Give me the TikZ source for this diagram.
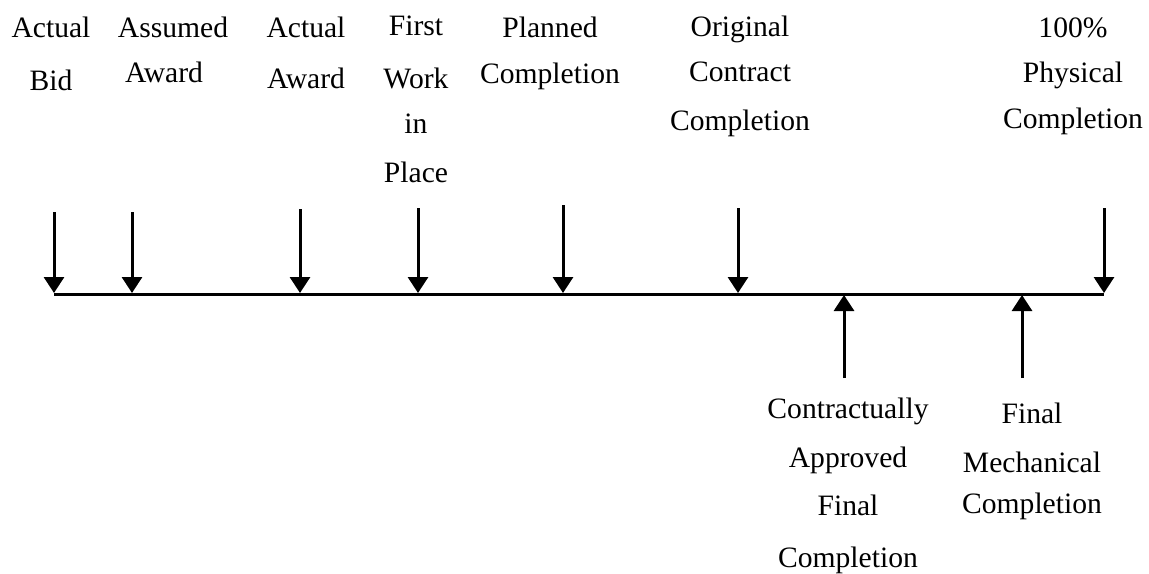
\documentclass[tikz,border=0pt]{standalone}
\usepackage{fontspec}
\setmainfont{Liberation Serif}
\usetikzlibrary{arrows.meta}
\begin{document}
\begin{tikzpicture}[x=0.5pt,y=-0.5pt,
  lbl/.style={font=\fontsize{14.8}{23}\selectfont, align=center, inner sep=0pt, anchor=base},
  evarrow/.style={-{Triangle[width=10pt,length=8pt]}, line width=1.5pt},
  timeline/.style={line width=1.5pt}]
\useasboundingbox (0,0) rectangle (1149,573);
% timeline
\coordinate (tL) at (54,294);
\coordinate (tR) at (1104,294);
\draw[timeline] (tL) -- (tR);
% down arrows
\foreach \n/\x/\y in {bid/54/212, ass/132/212, act/300/209, fwp/418/208, pln/563/205, orig/738/208, phys/1104/208}{
  \coordinate (\n-top) at (\x,\y);
  \coordinate (\n-pt) at (\x,293);
  \draw[evarrow] (\n-top) -- (\n-pt);
}
% up arrows
\foreach \n/\x in {cafc/844, fmc/1022}{
  \coordinate (\n-bot) at (\x,378);
  \coordinate (\n-pt) at (\x,295);
  \draw[evarrow] (\n-bot) -- (\n-pt);
}
% labels (anchor = baseline of last line)
\node[lbl] (Lbid) at (51,90) {Actual\\[3.5pt]Bid};
\node[lbl] (Lass) at (173,82) {Assumed\\[-0.5pt]Award\hspace*{9pt}};
\node[lbl] (Lact) at (306,88) {Actual\\[2.5pt]Award};
\node[lbl] (Lfwp) at (416,182) {First\\[3.5pt]Work\\[-0.5pt]in\\[1.5pt]Place};
\node[lbl] (Lpln) at (550,83) {Planned\\[0pt]Completion};
\node[lbl] (Lorig) at (740,130) {Original\\[-0.5pt]Contract\\[1.5pt]Completion};
\node[lbl] (Lphys) at (1073,128) {100\%\\[-0.5pt]Physical\\[0pt]Completion};
\node[lbl] (Lcafc) at (848,567) {Contractually\\[1.5pt]Approved\\[1pt]Final\\[3pt]Completion};
\node[lbl] (Lfmc) at (1032,513) {Final\\[1.5pt]Mechanical\\[-2.5pt]Completion};
\end{tikzpicture}
\end{document}
